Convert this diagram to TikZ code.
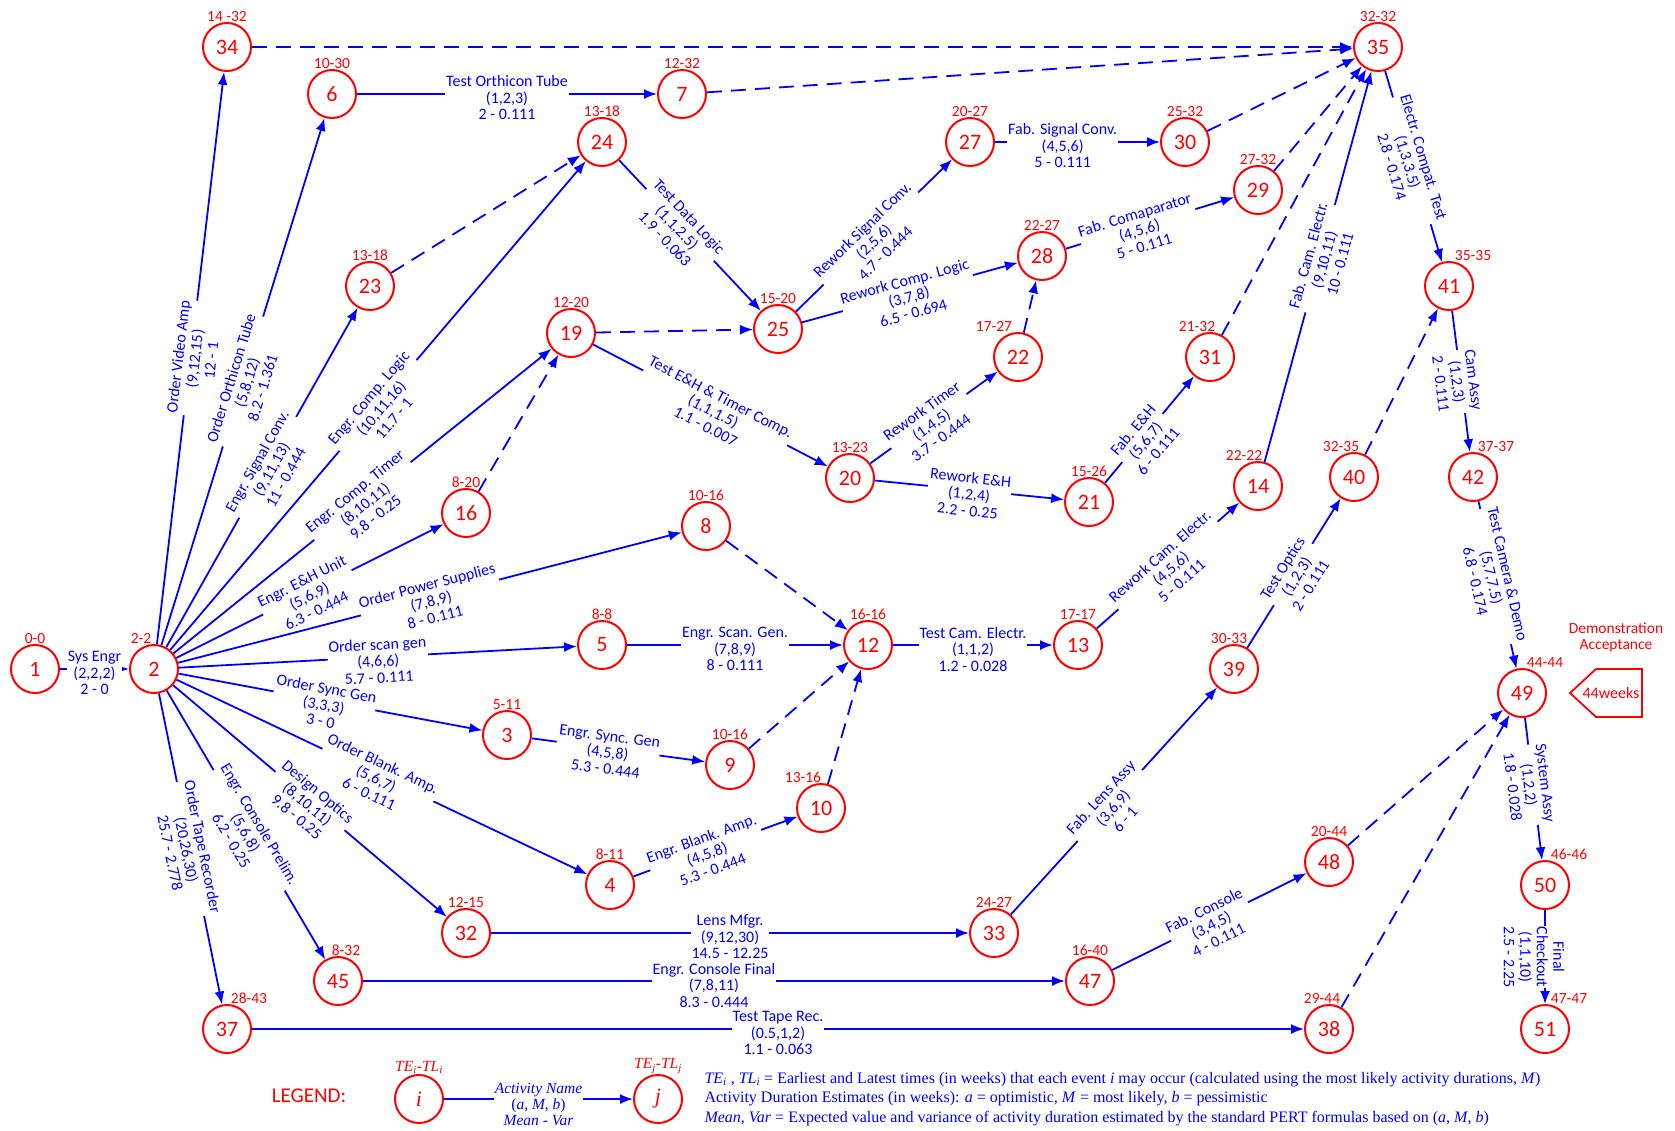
\documentclass[tikz,border=0pt]{standalone}
\usepackage{fontspec}
\setmainfont{Carlito}
\newfontfamily\legfont{Liberation Serif}
\usetikzlibrary{arrows.meta}

\begin{document}
\begin{tikzpicture}[x=1pt, y=-1pt,
    ev/.style={circle, draw=red, line width=2pt, text=red, minimum size=48pt, inner sep=0pt, label distance=7pt, font=\fontsize{22}{22}\selectfont},
    tt/.style={text=red, inner sep=0.5pt, font=\fontsize{15.5}{15.5}\selectfont},
    act/.style={draw=blue, line width=1.8pt, -{Latex[length=13pt,width=10pt]}},
    dum/.style={act, dash pattern=on 15pt off 9pt},
    lab/.style={sloped, fill=white, text=blue, align=center, inner sep=1pt, yshift=-4pt, font=\fontsize{16}{16.5}\selectfont}]
        \fill[white] (0,0) rectangle (1675,1130);
        \useasboundingbox (0,0) rectangle (1675,1130);
        %nodes
        \node[ev, label={[tt]above:0-0}] (n1) at (35,669) {1};
        \node[ev, label={[tt,xshift=-13pt]above:2-2}] (n2) at (154,669) {2};
        \node[ev, label={[tt]above:14 -32}] (n34) at (227,47) {34};
        \node[ev, label={[tt]above:10-30}] (n6) at (332,94) {6};
        \node[ev, label={[tt]above:12-32}] (n7) at (682,94) {7};
        \node[ev, label={[tt]above:13-18}] (n24) at (602,142) {24};
        \node[ev, label={[tt]above:13-18}] (n23) at (370,286) {23};
        \node[ev, label={[tt]above:20-27}] (n27) at (970,142) {27};
        \node[ev, label={[tt]above:25-32}] (n30) at (1185,142) {30};
        \node[ev, label={[tt]above:32-32}] (n35) at (1378,47) {35};
        \node[ev, label={[tt]above:27-32}] (n29) at (1258,190) {29};
        \node[ev, label={[tt]above:22-27}] (n28) at (1042,256) {28};
        \node[ev, label={[tt]above:15-20}] (n25) at (778,329) {25};
        \node[ev, label={[tt]above:12-20}] (n19) at (571,333) {19};
        \node[ev, label={[tt,xshift=-24pt]above:17-27}] (n22) at (1018,357) {22};
        \node[ev, label={[tt,xshift=-13pt]above:21-32}] (n31) at (1210,357) {31};
        \node[ev, label={[tt,xshift=24pt]above:35-35}] (n41) at (1449,286) {41};
        \node[ev, label={[tt]above:8-20}] (n16) at (466,513) {16};
        \node[ev, label={[tt]above:13-23}] (n20) at (850,478) {20};
        \node[ev, label={[tt]above:15-26}] (n21) at (1089,502) {21};
        \node[ev, label={[tt,xshift=-14pt]above:22-22}] (n14) at (1258,486) {14};
        \node[ev, label={[tt,xshift=-13pt]above:32-35}] (n40) at (1354,477) {40};
        \node[ev, label={[tt,xshift=23pt]above:37-37}] (n42) at (1473,477) {42};
        \node[ev, label={[tt]above:10-16}] (n8) at (706,526) {8};
        \node[ev, label={[tt]above:8-8}] (n5) at (602,645) {5};
        \node[ev, label={[tt]above:16-16}] (n12) at (868,645) {12};
        \node[ev, label={[tt]above:17-17}] (n13) at (1078,645) {13};
        \node[ev, label={[tt]above:5-11}] (n3) at (507,735) {3};
        \node[ev, label={[tt]above:10-16}] (n9) at (730,765) {9};
        \node[ev, label={[tt,xshift=-18pt]above:13-16}] (n10) at (821,808) {10};
        \node[ev, label={[tt,xshift=-5pt]above:30-33}] (n39) at (1234,669) {39};
        \node[ev, label={[tt,xshift=23pt]above:44-44}] (n49) at (1522,693) {49};
        \node[ev, label={[tt]above:8-11}] (n4) at (610,885) {4};
        \node[ev, label={[tt]above:12-15}] (n32) at (466,933) {32};
        \node[ev, label={[tt]above:24-27}] (n33) at (994,933) {33};
        \node[ev, label={[tt]above:20-44}] (n48) at (1329,862) {48};
        \node[ev, label={[tt,xshift=8pt]above:8-32}] (n45) at (338,981) {45};
        \node[ev, label={[tt]above:16-40}] (n47) at (1090,981) {47};
        \node[ev, label={[tt,xshift=24pt]above:46-46}] (n50) at (1545,885) {50};
        \node[ev, label={[tt,xshift=22pt]above:28-43}] (n37) at (227,1029) {37};
        \node[ev, label={[tt,xshift=-7pt]above:29-44}] (n38) at (1329,1029) {38};
        \node[ev, label={[tt,xshift=24pt]above:47-47}] (n51) at (1545,1029) {51};
        %edges out of 2
        \draw[act] (n1) -- node[lab]{Sys Engr\\(2,2,2)\\2 - 0} (n2);
        \draw[act] (n2) -- node[lab, pos=0.5]{Order Video Amp\\(9,12,15)\\12 - 1} (n34);
        \draw[act] (n2) -- node[lab, pos=0.5]{Order Orthicon Tube\\(5,8,12)\\8.2 - 1.361} (n6);
        \draw[act] (n2) -- node[lab, pos=0.53]{Engr. Signal Conv.\\(9,11,13)\\11 - 0.444} (n23);
        \draw[act] (n2) -- node[lab, pos=0.5]{Engr. Comp. Logic\\(10,11,16)\\11.7 - 1} (n24);
        \draw[act] (n2) -- node[lab, pos=0.5]{Engr. Comp. Timer\\(8,10,11)\\9.8 - 0.25} (n19);
        \draw[act] (n2) -- node[lab, pos=0.49]{Engr. E\&H Unit\\(5,6,9)\\6.3 - 0.444} (n16);
        \draw[act] (n2) -- node[lab, pos=0.5]{Order Power Supplies\\(7,8,9)\\8 - 0.111} (n8);
        \draw[act] (n2) -- node[lab, pos=0.5]{Order scan gen\\(4,6,6)\\5.7 - 0.111} (n5);
        \draw[act] (n2) -- node[lab, pos=0.48]{Order Sync Gen\\(3,3,3)\\3 - 0} (n3);
        \draw[act] (n2) -- node[lab, pos=0.49]{Order Blank. Amp.\\(5,6,7)\\6 - 0.111} (n4);
        \draw[act] (n2) -- node[lab, pos=0.5]{Design Optics\\(8,10,11)\\9.8 - 0.25} (n32);
        \draw[act] (n2) -- node[lab, pos=0.52]{Engr. Console Prelim.\\(5,6,8)\\6.2 - 0.25} (n45);
        \draw[act] (n2) -- node[lab, pos=0.5]{Order Tape Recorder\\(20,26,30)\\25.7 - 2.778} (n37);
        %edges, upper part
        \draw[dum] (n34) -- (n35);
        \draw[act] (n6) -- node[lab]{Test Orthicon Tube\\(1,2,3)\\2 - 0.111} (n7);
        \draw[dum] (n7) -- (n35);
        \draw[dum] (n23) -- (n24);
        \draw[act] (n24) -- node[lab, pos=0.43]{Test Data Logic\\(1,1,2.5)\\1.9 - 0.063} (n25);
        \draw[dum] (n19) -- (n25);
        \draw[dum] (n16) -- (n19);
        \draw[act] (n19) -- node[lab, pos=0.52]{Test E\&H \& Timer Comp.\\(1,1,1.5)\\1.1 - 0.007} (n20);
        \draw[act] (n25) -- node[lab, pos=0.48]{Rework Signal Conv.\\(2,5,6)\\4.7 - 0.444} (n27);
        \draw[act] (n25) -- node[lab, pos=0.49]{Rework Comp. Logic\\(3,7,8)\\6.5 - 0.694} (n28);
        \draw[act] (n27) -- node[lab, pos=0.41]{Fab. Signal Conv.\\(4,5,6)\\5 - 0.111} (n30);
        \draw[dum] (n30) -- (n35);
        \draw[act] (n28) -- node[lab, pos=0.43]{Fab. Comaparator\\(4,5,6)\\5 - 0.111} (n29);
        \draw[dum] (n29) -- (n35);
        \draw[dum] (n22) -- (n28);
        \draw[act] (n20) -- node[lab, pos=0.46]{Rework Timer\\(1,4,5)\\3.7 - 0.444} (n22);
        \draw[act] (n20) -- node[lab, pos=0.5]{Rework E\&H\\(1,2,4)\\2.2 - 0.25} (n21);
        \draw[act] (n21) -- node[lab, pos=0.42]{Fab. E\&H\\(5,6,7)\\6 - 0.111} (n31);
        \draw[dum] (n31) -- (n35);
        \draw[act] (n14) -- node[lab, pos=0.52]{Fab. Cam. Electr.\\(9,10,11)\\10 - 0.111} (n35);
        \draw[act] (n35) -- node[lab, pos=0.47]{Electr. Compat. Test\\(1,3,3.5)\\2.8 - 0.174} (n41);
        \draw[dum] (n40) -- (n41);
        \draw[act] (n41) -- node[lab, pos=0.5]{Cam Assy\\(1,2,3)\\2 - 0.111} (n42);
        \draw[act] (n42) -- node[lab, pos=0.45]{Test Camera \& Demo\\(5,7,7.5)\\6.8 - 0.174} (n49);
        %edges, lower part
        \draw[dum] (n8) -- (n12);
        \draw[act] (n5) -- node[lab]{Engr. Scan. Gen.\\(7,8,9)\\8 - 0.111} (n12);
        \draw[dum] (n9) -- (n12);
        \draw[dum] (n10) -- (n12);
        \draw[act] (n12) -- node[lab]{Test Cam. Electr.\\(1,1,2)\\1.2 - 0.028} (n13);
        \draw[act] (n13) -- node[lab]{Rework Cam. Electr.\\(4,5,6)\\5 - 0.111} (n14);
        \draw[act] (n39) -- node[lab, pos=0.49]{Test Optics\\(1,2,3)\\2 - 0.111} (n40);
        \draw[act] (n3) -- node[lab, pos=0.44]{Engr. Sync. Gen\\(4,5,8)\\5.3 - 0.444} (n9);
        \draw[act] (n4) -- node[lab, pos=0.44]{Engr. Blank. Amp.\\(4,5,8)\\5.3 - 0.444} (n10);
        \draw[act] (n32) -- node[lab]{Lens Mfgr.\\(9,12,30)\\14.5 - 12.25} (n33);
        \draw[act] (n33) -- node[lab, pos=0.48]{Fab. Lens Assy\\(3,6,9)\\6 - 1} (n39);
        \draw[act] (n45) -- node[lab]{Engr. Console Final\\(7,8,11)\\8.3 - 0.444} (n47);
        \draw[act] (n47) -- node[lab]{Fab. Console\\(3,4,5)\\4 - 0.111} (n48);
        \draw[dum] (n48) -- (n49);
        \draw[act] (n37) -- node[lab]{Test Tape Rec.\\(0.5,1,2)\\1.1 - 0.063} (n38);
        \draw[dum] (n38) -- (n49);
        \draw[act] (n49) -- node[lab, pos=0.47]{System Assy\\(1,2,2)\\1.8 - 0.028} (n50);
        \draw[act] (n50) -- node[lab, sloped=false, yshift=4pt, xshift=-11pt, rotate=-90]{Final\\Checkout\\(1,1,10)\\2.5 - 2.25} (n51);
        %demonstration
        \node[text=red, align=center, font=\fontsize{15.5}{16}\selectfont] (demo) at (1616,637) {Demonstration\\Acceptance};
        \draw[red, line width=1.8pt] (1570,693) -- (1596,669) -- (1642,669) -- (1642,717) -- (1596,717) -- cycle;
        \node[text=red, font=\fontsize{16}{16}\selectfont] (wks) at (1611,693) {44weeks};
        %legend
        \node[text=red, font=\fontsize{21}{21}\selectfont] (legend) at (309,1096) {LEGEND:};
        \node[ev, label distance=3pt, font=\legfont\itshape\fontsize{22}{22}\selectfont, label={[tt, font=\legfont\itshape\fontsize{15.5}{15.5}\selectfont]above:TE\textsubscript{i}-TL\textsubscript{i}}] (li) at (419,1099) {i};
        \node[ev, label distance=3pt, font=\legfont\itshape\fontsize{22}{22}\selectfont, label={[tt, font=\legfont\itshape\fontsize{15.5}{15.5}\selectfont]above:TE\textsubscript{j}-TL\textsubscript{j}}] (lj) at (658,1099) {j};
        \draw[act] (li) -- node[lab, yshift=-1pt, font=\legfont\fontsize{15.5}{16}\selectfont]{\textit{Activity Name}\\(\textit{a}, \textit{M}, \textit{b})\\\textit{Mean} - \textit{Var}} (lj);
        \node[anchor=west, text=blue, align=left, font=\legfont\fontsize{16}{19.5}\selectfont] (ltxt) at (701,1099)
          {\textit{TE\textsubscript{i}} , \textit{TL\textsubscript{i}} = Earliest and Latest times (in weeks) that each event \textit{i} may occur (calculated using the most likely activity durations, \textit{M})\\
           Activity Duration Estimates (in weeks): \textit{a} = optimistic, \textit{M} = most likely, \textit{b} = pessimistic\\
           \textit{Mean}, \textit{Var} = Expected value and variance of activity duration estimated by the standard PERT formulas based on (\textit{a}, \textit{M}, \textit{b})};
\end{tikzpicture}
\end{document}
